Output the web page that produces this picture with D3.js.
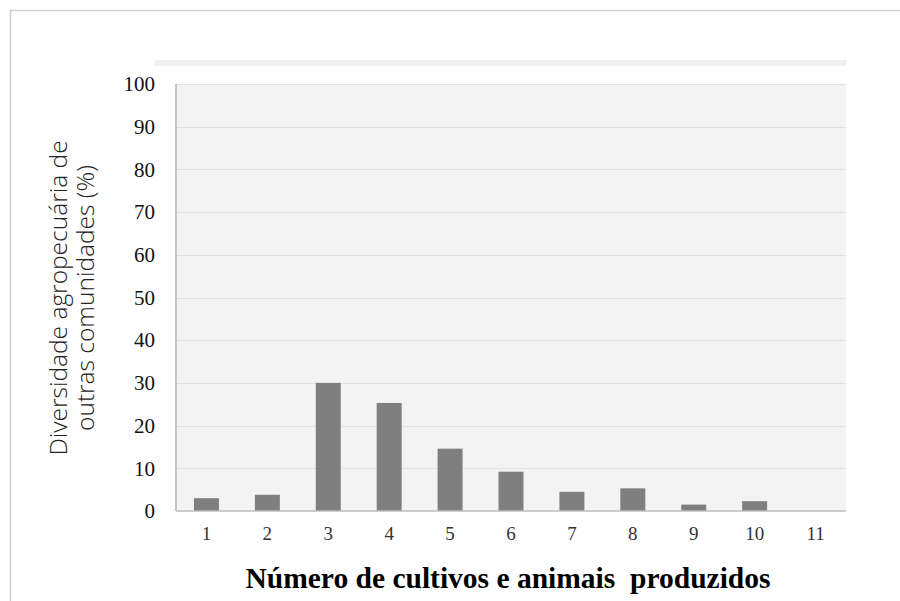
<!DOCTYPE html>
<html><head><meta charset="utf-8">
<script src="https://cdn.jsdelivr.net/npm/d3@7"></script>
<style>body{margin:0;background:#fff}svg{display:block}</style>
</head><body>
<script>
const categories = ["1","2","3","4","5","6","7","8","9","10","11"];
const values = [3.0, 3.8, 30.0, 25.3, 14.6, 9.2, 4.5, 5.3, 1.5, 2.3, 0];
const yTicks = [0,10,20,30,40,50,60,70,80,90,100];
const yTitle = ["Diversidade agropecuária de", "outras comunidades (%)"];
const xTitle = "Número de cultivos e animais\u00a0 produzidos";

const W = 900, H = 601;
const m = {left:176, right:846, top:84, bottom:511};
const svg = d3.select("body").append("svg").attr("width",W).attr("height",H);

// outer frame
svg.append("path").attr("d",`M10.5,${H} V10.5 H${W}`).attr("fill","none").attr("stroke","#d0d0d0").attr("stroke-width",1.5);
// top band
svg.append("rect").attr("x",155).attr("y",60).attr("width",691).attr("height",6).attr("fill","#f0f0f0");

const x = d3.scaleBand().domain(categories).range([m.left,m.right]).paddingInner(0.59).paddingOuter(0.295);
const y = d3.scaleLinear().domain([0,100]).range([m.bottom,m.top]);

// plot background
svg.append("rect").attr("x",m.left).attr("y",m.top).attr("width",m.right-m.left).attr("height",m.bottom-m.top).attr("fill","#f3f3f3");

// gridlines
svg.append("g").selectAll("line").data(yTicks.filter(d=>d>0)).join("line")
  .attr("x1",m.left).attr("x2",m.right).attr("y1",d=>Math.round(y(d))+0.5).attr("y2",d=>Math.round(y(d))+0.5)
  .attr("stroke","#e2e2e2").attr("stroke-width",1.2);

// bars
svg.append("g").selectAll("rect").data(values).join("rect")
  .attr("x",(d,i)=>x(categories[i])).attr("width",x.bandwidth())
  .attr("y",d=>y(d)).attr("height",d=>y(0)-y(d)).attr("fill","#7f7f7f");

// axes lines
svg.append("line").attr("x1",m.left).attr("x2",m.left).attr("y1",m.top).attr("y2",m.bottom).attr("stroke","#c4c4c4").attr("stroke-width",2);
svg.append("line").attr("x1",m.left).attr("x2",m.right).attr("y1",m.bottom).attr("y2",m.bottom).attr("stroke","#bdbdbd").attr("stroke-width",1.5);

// y axis labels
const yAxis = d3.axisLeft(y).tickValues(yTicks).tickSize(0).tickPadding(21);
const gy = svg.append("g").attr("transform",`translate(${m.left},0)`).call(yAxis);
gy.select(".domain").remove();
gy.selectAll("text").attr("font-family","'Liberation Serif','Times New Roman',serif").attr("font-size",21).attr("fill","#111");

// x axis labels
const xAxis = d3.axisBottom(x).tickSize(0).tickPadding(16);
const gx = svg.append("g").attr("transform",`translate(0,${m.bottom})`).call(xAxis);
gx.select(".domain").remove();
gx.selectAll("text").attr("font-family","'Liberation Serif','Times New Roman',serif").attr("font-size",19).attr("fill","#333");

// y title
const yt = svg.append("text").attr("transform","translate(72,298) rotate(-90)")
  .attr("text-anchor","middle").attr("font-family","'Open Sans',sans-serif").attr("font-weight",300)
  .attr("font-size",24.5).attr("fill","#222");
yt.selectAll("tspan").data(yTitle).join("tspan").attr("x",0).attr("dy",(d,i)=>i===0?"-0.2em":"1.1em").text(d=>d);

// x title
svg.append("text").attr("x",508).attr("y",588).attr("text-anchor","middle")
  .attr("font-family","'Liberation Serif','Times New Roman',serif").attr("font-weight","bold")
  .attr("font-size",29.5).attr("fill","#000").text(xTitle);
</script>
</body></html>
